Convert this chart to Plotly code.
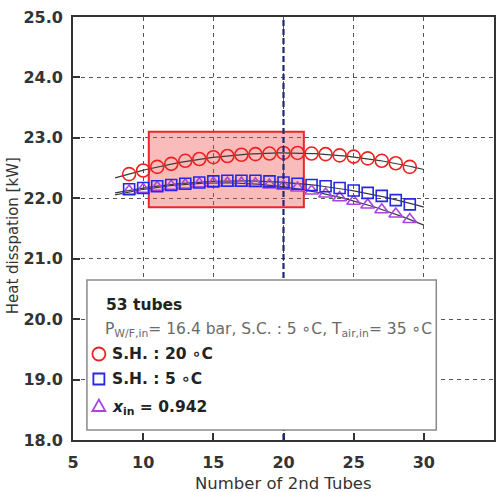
import numpy as np
import plotly.graph_objects as go

# ---------------- data ----------------
n_tubes = list(range(9, 30))
sh20 = [22.40, 22.46, 22.52, 22.57, 22.62, 22.65, 22.68, 22.70, 22.72, 22.73, 22.74,
        22.75, 22.75, 22.74, 22.73, 22.71, 22.69, 22.66, 22.62, 22.58, 22.52]
sh5 = [22.15, 22.17, 22.20, 22.22, 22.24, 22.26, 22.28, 22.29, 22.29, 22.29, 22.28,
       22.26, 22.24, 22.22, 22.20, 22.17, 22.13, 22.09, 22.04, 21.97, 21.90]
xin = [22.12, 22.15, 22.18, 22.20, 22.22, 22.24, 22.25, 22.25, 22.25, 22.24, 22.22,
       22.20, 22.17, 22.12, 22.07, 22.01, 21.95, 21.89, 21.81, 21.74, 21.65]
fit_range = [8, 30]
highlight_x = [10.4, 21.45]
highlight_y = [21.85, 23.1]
selected_x = 20
x_ticks = [5, 10, 15, 20, 25, 30, 35]
x_tick_labels = ["5", "10", "15", "20", "25", "30", "35"]
y_ticks = [18, 19, 20, 21, 22, 23, 24, 25]
y_tick_labels = ["18.0", "19.0", "20.0", "21.0", "22.0", "23.0", "24.0", "25.0"]

RED = "#f02020"
BLUE = "#2626e6"
PURPLE = "#a845e0"
FONT = "DejaVu Sans"

# plot area geometry (pixels) for paper-coord conversions
L, R, T, B = 73, 496, 17, 440
W, H = R - L, B - T
def px(x):
    return (x - L) / W
def py(y):
    return (B - y) / H

fig = go.Figure()

series = [
    (sh20, RED, "circle-open", 13, "S.H. : 20 ∘C"),
    (sh5, BLUE, "square-open", 11, "S.H. : 5 ∘C"),
    (xin, PURPLE, "triangle-up-open", 12, "x_in = 0.942"),
]
xfit = np.linspace(fit_range[0], fit_range[1], 120)
for vals, col, sym, size, name in series:
    coef = np.polyfit(n_tubes, vals, 2)
    fig.add_trace(go.Scatter(x=xfit, y=np.polyval(coef, xfit), mode="lines",
                             line=dict(color="#3a3a3a", width=1.2),
                             showlegend=False, hoverinfo="skip"))
for vals, col, sym, size, name in reversed(series):
    fig.add_trace(go.Scatter(x=n_tubes, y=vals, mode="markers", name=name,
                             marker=dict(symbol=sym, size=size, color=col,
                                         line=dict(color=col, width=1.6)),
                             showlegend=False))

# highlight rectangle
fig.add_shape(type="rect", x0=highlight_x[0], x1=highlight_x[1],
              y0=highlight_y[0], y1=highlight_y[1], xref="x", yref="y",
              fillcolor="rgba(240,60,60,0.35)", line=dict(color="#e62828", width=2),
              layer="between")
# selected line
fig.add_shape(type="line", x0=selected_x, x1=selected_x, y0=18, y1=25,
              xref="x", yref="y", line=dict(color="#1c2a7a", width=2.2, dash="6px,3px"),
              layer="above")

# legend box
fig.add_shape(type="rect", xref="paper", yref="paper",
              x0=px(87), x1=px(438), y0=py(430), y1=py(280),
              fillcolor="white", line=dict(color="#8a8a8a", width=1.5), layer="above")

# legend symbols
sx = px(99)
fig.add_shape(type="circle", xref="paper", yref="paper", xsizemode="pixel", ysizemode="pixel",
              xanchor=sx, yanchor=py(354), x0=-6.5, x1=6.5, y0=-6.5, y1=6.5,
              line=dict(color=RED, width=1.8), layer="above")
fig.add_shape(type="rect", xref="paper", yref="paper", xsizemode="pixel", ysizemode="pixel",
              xanchor=sx, yanchor=py(379), x0=-5.5, x1=5.5, y0=-5.5, y1=5.5,
              line=dict(color=BLUE, width=1.8), layer="above")
fig.add_shape(type="path", xref="paper", yref="paper", xsizemode="pixel", ysizemode="pixel",
              xanchor=sx, yanchor=py(406), path="M -6.5,-5 L 6.5,-5 L 0,6.5 Z",
              line=dict(color=PURPLE, width=1.8), layer="above")

ann = [
    dict(text="<b>53 tubes</b>", x=px(104), y=py(305), size=15.5, color="#222"),
    dict(text="P<sub>W/F,in</sub>= 16.4 bar, S.C. : 5 ∘C, T<sub>air,in</sub>= 35 ∘C",
         x=px(103), y=py(330), size=15.5, color="#6a6a6a"),
    dict(text="<b>S.H. : 20 ∘C</b>", x=px(110), y=py(354), size=15.5, color="#222"),
    dict(text="<b>S.H. : 5 ∘C</b>", x=px(110), y=py(379), size=15.5, color="#222"),
    dict(text="<b><i>x</i><sub>in</sub> = 0.942</b>", x=px(110), y=py(408), size=15.5, color="#222"),
]
for a in ann:
    fig.add_annotation(text=a["text"], x=a["x"], y=a["y"], xref="paper", yref="paper",
                       xanchor="left", yanchor="middle", showarrow=False,
                       font=dict(family=FONT, size=a["size"], color=a["color"]))

# axis titles
fig.add_annotation(text="Number of 2nd Tubes", x=0.5, y=py(483), xref="paper", yref="paper",
                   xanchor="center", yanchor="middle", showarrow=False,
                   font=dict(family=FONT, size=16.5, color="#333"))
fig.add_annotation(text="Heat disspation [kW]", x=px(13), y=py(236), xref="paper", yref="paper",
                   xanchor="center", yanchor="middle", showarrow=False, textangle=-90,
                   font=dict(family=FONT, size=15, color="#333"))

axis_common = dict(showline=True, linecolor="#333", linewidth=1.8, mirror=True,
                   ticks="inside", ticklen=7, tickwidth=1.5, tickcolor="#333",
                   showgrid=True, gridcolor="#555", gridwidth=1.2, griddash="4px,4px",
                   zeroline=False,
                   tickfont=dict(family=FONT, size=16, color="#333"))

fig.update_xaxes(range=[5, 35], tickvals=x_ticks,
                 ticktext=["<b>" + t + "</b>" for t in x_tick_labels],
                 ticklabelstandoff=7, **axis_common)
fig.update_yaxes(range=[18, 25], tickvals=y_ticks,
                 ticktext=["<b>" + t + "</b>" for t in y_tick_labels],
                 ticklabelstandoff=5, **axis_common)

fig.update_layout(width=502, height=492, margin=dict(l=L, r=502 - R, t=T, b=492 - B),
                  plot_bgcolor="white", paper_bgcolor="white", showlegend=False,
                  font=dict(family=FONT))

fig.write_html("out.html")
